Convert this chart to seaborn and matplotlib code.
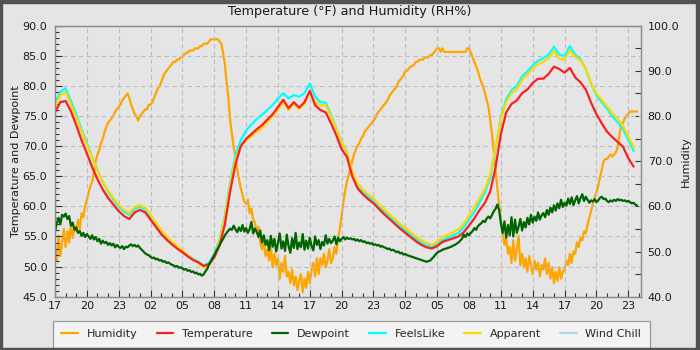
import numpy as np
import pandas as pd
import matplotlib
matplotlib.use("Agg")
import matplotlib.pyplot as plt
import seaborn as sns
from matplotlib.lines import Line2D
from matplotlib.patches import Rectangle
from matplotlib.ticker import MultipleLocator, FormatStrFormatter

# ---------------------------------------------------------------------------
# Station readings, hours elapsed since 17:00 on the first day
# ---------------------------------------------------------------------------

# 10-minute samples (one row per hour, six readings each)
humidity = [
    50.5, 48.0, 53.5, 49.0, 52.0, 55.0,
    51.0, 54.5, 52.0, 56.0, 53.0, 55.5,
    54.5, 57.0, 55.0, 58.5, 57.5, 60.0,
    61.5, 63.0, 64.5, 65.5, 67.5, 70.0,
    71.5, 72.5, 74.0, 75.0, 76.5, 77.5,
    78.5, 79.0, 79.5, 80.0, 81.0, 81.5,
    82.0, 82.5, 83.5, 84.0, 84.5, 85.0,
    84.0, 82.5, 81.5, 80.5, 80.0, 79.0,
    80.0, 80.5, 81.0, 81.5, 81.5, 82.5,
    82.5, 83.0, 84.0, 85.0, 86.0, 86.5,
    87.5, 88.5, 89.5, 90.0, 90.5, 91.0,
    91.5, 92.0, 92.0, 92.5, 92.5, 93.0,
    93.0, 93.5, 94.0, 94.0, 94.5, 94.5,
    94.5, 95.0, 95.0, 95.0, 95.5, 95.5,
    96.0, 96.0, 96.0, 96.5, 97.0, 97.0,
    97.0, 97.0, 97.0, 96.5, 96.0, 94.0,
    91.5, 87.5, 84.0, 79.0, 76.0, 73.0,
    71.0, 68.0, 66.0, 64.0, 62.5, 61.0,
    60.5, 61.5, 58.5, 59.5, 57.0, 56.5,
    54.0, 55.5, 52.0, 50.5, 52.5, 49.0,
    50.5, 48.0, 51.0, 46.5, 49.5, 47.0,
    48.5, 44.0, 47.5, 45.5, 49.0, 44.5,
    45.5, 43.0, 46.0, 42.5, 44.5, 41.5,
    43.5, 45.0, 41.0, 44.0, 42.0, 45.5,
    43.0, 46.0, 47.5, 44.5, 48.5, 45.0,
    48.5, 47.0, 49.5, 46.5, 48.0, 50.5,
    47.5, 48.5, 51.0, 49.5, 53.0, 55.0,
    58.0, 61.0, 63.5, 65.5, 67.0, 68.5,
    70.0, 71.5, 72.5, 73.5, 74.0, 75.0,
    75.5, 76.5, 77.0, 77.5, 78.0, 78.5,
    79.0, 79.5, 80.5, 81.0, 81.5, 82.0,
    82.5, 83.0, 83.5, 84.5, 85.0, 85.5,
    86.0, 86.5, 87.5, 88.0, 88.5, 89.0,
    90.0, 90.0, 90.5, 91.0, 91.0, 91.5,
    92.0, 92.0, 92.5, 92.5, 92.5, 93.0,
    93.0, 93.0, 93.5, 93.5, 94.0, 94.5,
    95.0, 95.0, 94.2, 95.0, 94.2, 94.2,
    94.2, 94.2, 94.2, 94.2, 94.2, 94.2,
    94.2, 94.2, 94.2, 94.2, 94.2, 95.0,
    95.0, 94.0, 93.0, 92.0, 91.0, 90.0,
    88.5, 87.5, 86.5, 85.0, 83.5, 82.0,
    79.0, 76.0, 72.0, 68.0, 64.0, 60.5,
    57.0, 54.0, 51.5, 53.0, 49.5, 51.0,
    47.5, 52.5, 48.0, 50.5, 53.5, 47.0,
    49.5, 46.5, 48.5, 45.5, 49.0, 47.0,
    45.0, 48.0, 46.0, 47.5, 44.5, 47.0,
    46.0, 48.5, 45.0, 47.5, 44.0, 46.5,
    43.0, 45.5, 43.5, 46.5, 44.0, 45.5,
    46.0, 48.0, 47.0, 49.5, 47.5, 50.0,
    49.5, 52.0, 51.0, 53.0, 52.5, 54.5,
    54.0, 56.0, 57.5, 59.0, 60.5, 62.0,
    63.0, 64.5, 66.5, 68.0, 70.0, 70.5,
    70.5, 71.0, 71.5, 71.0, 71.5, 72.0,
    73.0, 76.0, 78.0, 78.5, 79.5, 80.0,
    80.5, 81.0, 81.0, 81.0, 81.0, 81.0,
]

dewpoint = [
    55.8, 57.2, 58.1, 57.0, 58.6, 58.3,
    58.8, 57.9, 58.4, 56.8, 57.3, 56.1,
    56.5, 55.6, 55.9, 55.1, 55.6, 54.9,
    55.4, 55.0, 54.6, 55.2, 54.5, 54.9,
    54.2, 54.6, 53.8, 54.3, 53.9, 54.1,
    53.6, 53.9, 53.5, 53.8, 53.2, 53.6,
    53.3, 53.1, 53.4, 52.9, 53.3, 53.2,
    53.5, 53.7, 53.4, 53.6, 53.3, 53.5,
    53.1, 52.8, 52.5, 52.2, 52.0, 51.9,
    51.6, 51.4, 51.5, 51.2, 51.3, 51.0,
    51.1, 50.8, 50.9, 50.6, 50.7, 50.5,
    50.3, 50.2, 50.0, 50.1, 49.8, 49.9,
    49.7, 49.5, 49.6, 49.3, 49.4, 49.1,
    49.2, 48.9, 49.0, 48.7, 48.8, 48.5,
    48.7, 49.2, 49.6, 50.3, 50.8, 51.4,
    51.9, 52.5, 53.0, 53.6, 54.1, 54.6,
    55.2, 55.6, 56.0, 56.3, 56.1, 56.8,
    56.2, 55.7, 56.5, 55.9, 56.9, 55.8,
    56.4, 55.6, 56.2, 57.4, 55.5, 56.3,
    55.8, 54.9, 56.0, 54.0, 55.2, 53.6,
    54.4, 52.7, 55.1, 53.3, 54.6, 52.5,
    53.9, 55.5, 53.0, 54.2, 52.6, 55.3,
    53.4, 52.3, 54.7, 53.1, 55.6, 52.9,
    54.0, 53.2, 55.4, 52.8, 54.3, 53.0,
    54.8, 53.4, 52.7, 55.0, 53.6, 54.4,
    52.9, 54.1, 53.5, 55.2, 53.8, 54.6,
    53.9, 54.3, 55.0, 53.7, 54.8, 54.2,
    54.6, 54.9, 54.5, 54.8, 54.6, 54.7,
    54.5, 54.6, 54.3, 54.5, 54.2, 54.4,
    54.1, 54.2, 53.9, 54.0, 53.8, 53.9,
    53.6, 53.7, 53.5, 53.6, 53.3, 53.4,
    53.2, 53.1, 52.9, 53.0, 52.7, 52.8,
    52.6, 52.4, 52.5, 52.2, 52.3, 52.0,
    52.1, 51.9, 51.8, 51.7, 51.6, 51.5,
    51.4, 51.3, 51.2, 51.1, 51.0, 50.9,
    50.8, 50.9, 51.0, 51.3, 51.6, 52.0,
    52.3, 52.5, 52.6, 52.8, 52.9, 53.0,
    53.1, 53.2, 53.3, 53.5, 53.6, 53.8,
    54.0, 54.3, 54.6, 55.3, 54.9, 55.5,
    55.2, 55.6, 55.9, 56.4, 56.1, 56.7,
    57.0, 57.2, 57.6, 57.4, 58.0, 58.3,
    58.0, 58.6, 59.2, 59.6, 60.3, 59.4,
    57.2, 55.6, 57.5, 54.8, 56.9, 55.2,
    58.2, 55.0, 57.8, 55.6, 56.6, 57.9,
    56.0, 57.4, 56.5, 58.1, 57.0, 58.6,
    57.3, 58.3, 57.6, 59.0, 57.8, 58.5,
    58.9, 58.2, 59.4, 58.6, 59.8, 59.0,
    60.2, 59.3, 60.5, 59.7, 61.1, 59.9,
    60.6, 60.1, 61.3, 60.4, 61.5, 60.2,
    61.0, 61.7, 60.5, 61.4, 62.0, 60.9,
    61.6, 61.1, 60.6, 61.0, 60.8, 61.2,
    60.7, 61.0, 61.4, 61.6, 61.2, 61.3,
    60.9, 60.7, 61.0, 60.8, 61.1, 60.9,
    61.2, 61.0, 61.1, 60.9, 61.0, 60.8,
    60.9, 60.7, 60.5, 60.6, 60.3, 60.1,
]

# 30-minute samples (one row per two hours, four readings each)
temperature = [
    75.6, 77.3, 77.5, 75.8,
    73.5, 71.0, 68.8, 66.5,
    64.5, 62.8, 61.4, 60.3,
    59.2, 58.4, 57.9, 59.0,
    59.4, 59.0, 57.8, 56.6,
    55.4, 54.5, 53.7, 53.0,
    52.4, 51.7, 51.1, 50.7,
    50.1, 50.4, 51.5, 53.5,
    57.0, 62.5, 67.0, 70.0,
    71.2, 72.0, 72.8, 73.5,
    74.4, 75.3, 76.5, 77.7,
    76.3, 77.3, 76.4, 77.3,
    79.2, 76.8, 76.0, 75.6,
    73.8, 71.8, 69.5, 68.2,
    65.0, 63.0, 62.0, 61.2,
    60.5, 59.6, 58.7, 57.9,
    57.1, 56.3, 55.6, 54.9,
    54.2, 53.6, 53.2, 53.0,
    53.4, 54.1, 54.4, 54.7,
    55.0, 55.7, 56.8, 58.0,
    59.4, 60.6, 62.5, 66.5,
    72.0, 75.6, 77.0, 77.6,
    78.8, 79.4, 80.5, 81.2,
    81.2, 82.0, 83.2, 82.8,
    82.2, 83.0, 81.4, 80.6,
    79.4, 77.2, 75.3, 73.8,
    72.4, 71.5, 70.7, 69.9,
    68.0, 66.6,
]

feels_like = [
    77.0, 79.0, 79.6, 77.5,
    75.3, 72.8, 70.5, 68.2,
    66.0, 64.0, 62.4, 61.1,
    60.0, 59.1, 58.6, 59.6,
    59.9, 59.5, 58.3, 57.0,
    55.8, 54.8, 54.0, 53.3,
    52.6, 51.9, 51.3, 50.8,
    50.2, 50.6, 52.0, 54.5,
    58.5, 64.0, 68.5, 71.0,
    72.6, 73.6, 74.5, 75.2,
    76.0, 76.8, 77.9, 78.8,
    77.9, 78.5, 78.2, 78.8,
    80.4, 78.2, 77.3, 77.2,
    75.2, 73.0, 70.6, 69.0,
    65.6, 63.5, 62.5, 61.6,
    60.9, 60.0, 59.1, 58.3,
    57.5, 56.7, 56.0, 55.3,
    54.6, 54.0, 53.5, 53.3,
    53.7, 54.4, 54.8, 55.2,
    55.6, 56.5, 57.8, 59.1,
    60.7, 62.3, 64.8, 69.5,
    74.8, 77.8, 79.3, 80.0,
    81.6, 82.4, 83.4, 84.2,
    84.6, 85.2, 86.5, 85.2,
    85.0, 86.6, 85.2, 84.4,
    82.8, 80.3, 78.4, 77.3,
    76.2, 74.9, 74.0, 72.9,
    71.0, 69.2,
]

apparent = [
    76.5, 78.4, 79.0, 77.0,
    74.8, 72.4, 70.2, 68.0,
    65.9, 64.1, 62.6, 61.4,
    60.3, 59.4, 58.9, 59.9,
    60.2, 59.8, 58.6, 57.3,
    56.1, 55.0, 54.2, 53.4,
    52.7, 51.9, 51.2, 50.6,
    49.8, 50.1, 51.6, 54.2,
    58.2, 63.5, 67.8, 70.0,
    71.0, 71.6, 72.4, 73.0,
    74.0, 75.0, 76.1, 77.3,
    76.0, 77.0, 76.2, 77.0,
    78.9, 77.3, 76.8, 76.8,
    74.9, 72.9, 70.6, 69.1,
    65.8, 63.8, 62.8, 62.0,
    61.3, 60.4, 59.5, 58.7,
    57.9, 57.1, 56.4, 55.7,
    55.0, 54.4, 53.9, 53.6,
    54.1, 54.9, 55.3, 55.7,
    56.2, 57.1, 58.5, 59.9,
    61.4, 62.9, 65.3, 69.8,
    74.6, 77.3, 78.8, 79.4,
    81.0, 81.9, 82.9, 83.6,
    84.0, 84.6, 85.8, 84.5,
    84.4, 85.9, 84.8, 84.2,
    82.8, 80.4, 78.7, 77.7,
    76.6, 75.4, 74.5, 73.4,
    71.6, 69.8,
]

# Axis labelling
hour_ticks = ["17", "20", "23", "02", "05", "08", "11", "14", "17", "20",
              "23", "02", "05", "08", "11", "14", "17", "20", "23"]
series_names = ["Humidity", "Temperature", "Dewpoint", "FeelsLike",
                "Apparent", "Wind Chill"]
title = "Temperature (°F) and Humidity (RH%)"

# ---------------------------------------------------------------------------
# Tables for seaborn
# ---------------------------------------------------------------------------
fast = pd.DataFrame({
    "hours": np.arange(len(humidity)) / 6.0,
    "humidity": humidity,
    "dewpoint": dewpoint,
})
slow = pd.DataFrame({
    "hours": np.arange(len(temperature)) * 0.5,
    "temperature": temperature,
    "feels_like": feels_like,
    "apparent": apparent,
})

BG = "#e5e5e5"
colors = {
    "Humidity": "#ffa500",
    "Temperature": "#f82020",
    "Dewpoint": "#006400",
    "FeelsLike": "#00ffff",
    "Apparent": "#ffd700",
    "Wind Chill": "#add8e6",
}

sns.set_theme(style="ticks", rc={
    "axes.facecolor": BG,
    "figure.facecolor": BG,
    "axes.edgecolor": "#8c8c8c",
    "axes.linewidth": 0.9,
})
plt.rcParams["font.family"] = ["DejaVu Sans"]

fig = plt.figure(figsize=(7, 3.5), dpi=100, facecolor=BG)
ax = fig.add_axes([55 / 700, 53.3 / 350, 585.7 / 700, 271 / 350])
axh = ax.twinx()

# humidity sits underneath the temperature traces
ax.set_zorder(axh.get_zorder() + 1)
ax.patch.set_visible(False)
axh.patch.set_visible(True)
axh.patch.set_facecolor(BG)

lw = 1.6
sns.lineplot(data=fast, x="hours", y="humidity", ax=axh, color=colors["Humidity"],
             lw=lw, legend=False)
sns.lineplot(data=slow, x="hours", y="feels_like", ax=ax, color=colors["FeelsLike"],
             lw=lw, legend=False)
sns.lineplot(data=slow, x="hours", y="apparent", ax=ax, color=colors["Apparent"],
             lw=lw, legend=False)
sns.lineplot(data=slow, x="hours", y="temperature", ax=ax, color=colors["Temperature"],
             lw=lw, legend=False)
sns.lineplot(data=fast, x="hours", y="dewpoint", ax=ax, color=colors["Dewpoint"],
             lw=lw, legend=False)

# axes ranges and ticks
ax.set_xlim(0, 55.17)
ax.set_ylim(45, 90)
axh.set_ylim(40, 100)

ax.set_xticks(np.arange(len(hour_ticks)) * 3)
ax.set_xticklabels(hour_ticks)
ax.xaxis.set_minor_locator(MultipleLocator(1))
ax.yaxis.set_major_locator(MultipleLocator(5))
ax.yaxis.set_minor_locator(MultipleLocator(1))
ax.yaxis.set_major_formatter(FormatStrFormatter("%.1f"))
axh.yaxis.set_major_locator(MultipleLocator(10))
axh.yaxis.set_minor_locator(MultipleLocator(5))
axh.yaxis.set_major_formatter(FormatStrFormatter("%.1f"))

tick_kw = dict(direction="in", color="#333333", labelcolor="#1a1a1a", labelsize=8)
ax.tick_params(axis="both", which="major", length=5, width=0.8, **tick_kw)
ax.tick_params(axis="both", which="minor", length=3, width=0.8, **tick_kw)
ax.tick_params(axis="y", which="major", pad=5.5)
ax.tick_params(axis="x", which="major", pad=3)
axh.tick_params(axis="y", which="both", length=4, width=0.8, pad=5, **tick_kw)

ax.grid(True, which="major", ls=(0, (4, 3)), color="#bdbdbd", lw=0.8)
axh.grid(False)

ax.set_xlabel("")
ax.set_ylabel("Temperature and Dewpoint", fontsize=8, color="#1a1a1a", labelpad=1)
axh.set_ylabel("Humidity", fontsize=8, color="#1a1a1a", labelpad=1)

for side in ("left", "right", "top", "bottom"):
    axh.spines[side].set_color("#8c8c8c")
    ax.spines[side].set_color("#8c8c8c")

fig.text(0.5, 1 - 12 / 350, title, ha="center", va="center", fontsize=9.2,
         color="#1a1a1a")

# legend strip underneath the plot
handles = [Line2D([], [], color=colors[n], lw=lw) for n in series_names]
leg = fig.legend(handles, series_names, loc="upper left", ncol=6,
                 bbox_to_anchor=(53 / 700, 1 - 321 / 350), fontsize=8,
                 frameon=True, fancybox=False, facecolor="#f3f3f3",
                 edgecolor="#9a9a9a", framealpha=1, handlelength=1.5,
                 handletextpad=0.8, columnspacing=1.7, borderpad=0.75,
                 borderaxespad=0)
leg.get_frame().set_linewidth(0.9)

# dark frame round the whole picture
border = "#525252"
for (x0, y0, w, h) in [(0, 0, 2, 350), (0, 0, 700, 3), (696, 0, 4, 350),
                       (0, 348, 700, 2)]:
    fig.patches.append(Rectangle((x0 / 700, 1 - (y0 + h) / 350), w / 700, h / 350,
                                 transform=fig.transFigure, color=border,
                                 zorder=10))

fig.savefig("out.png", dpi=100, facecolor=BG)
